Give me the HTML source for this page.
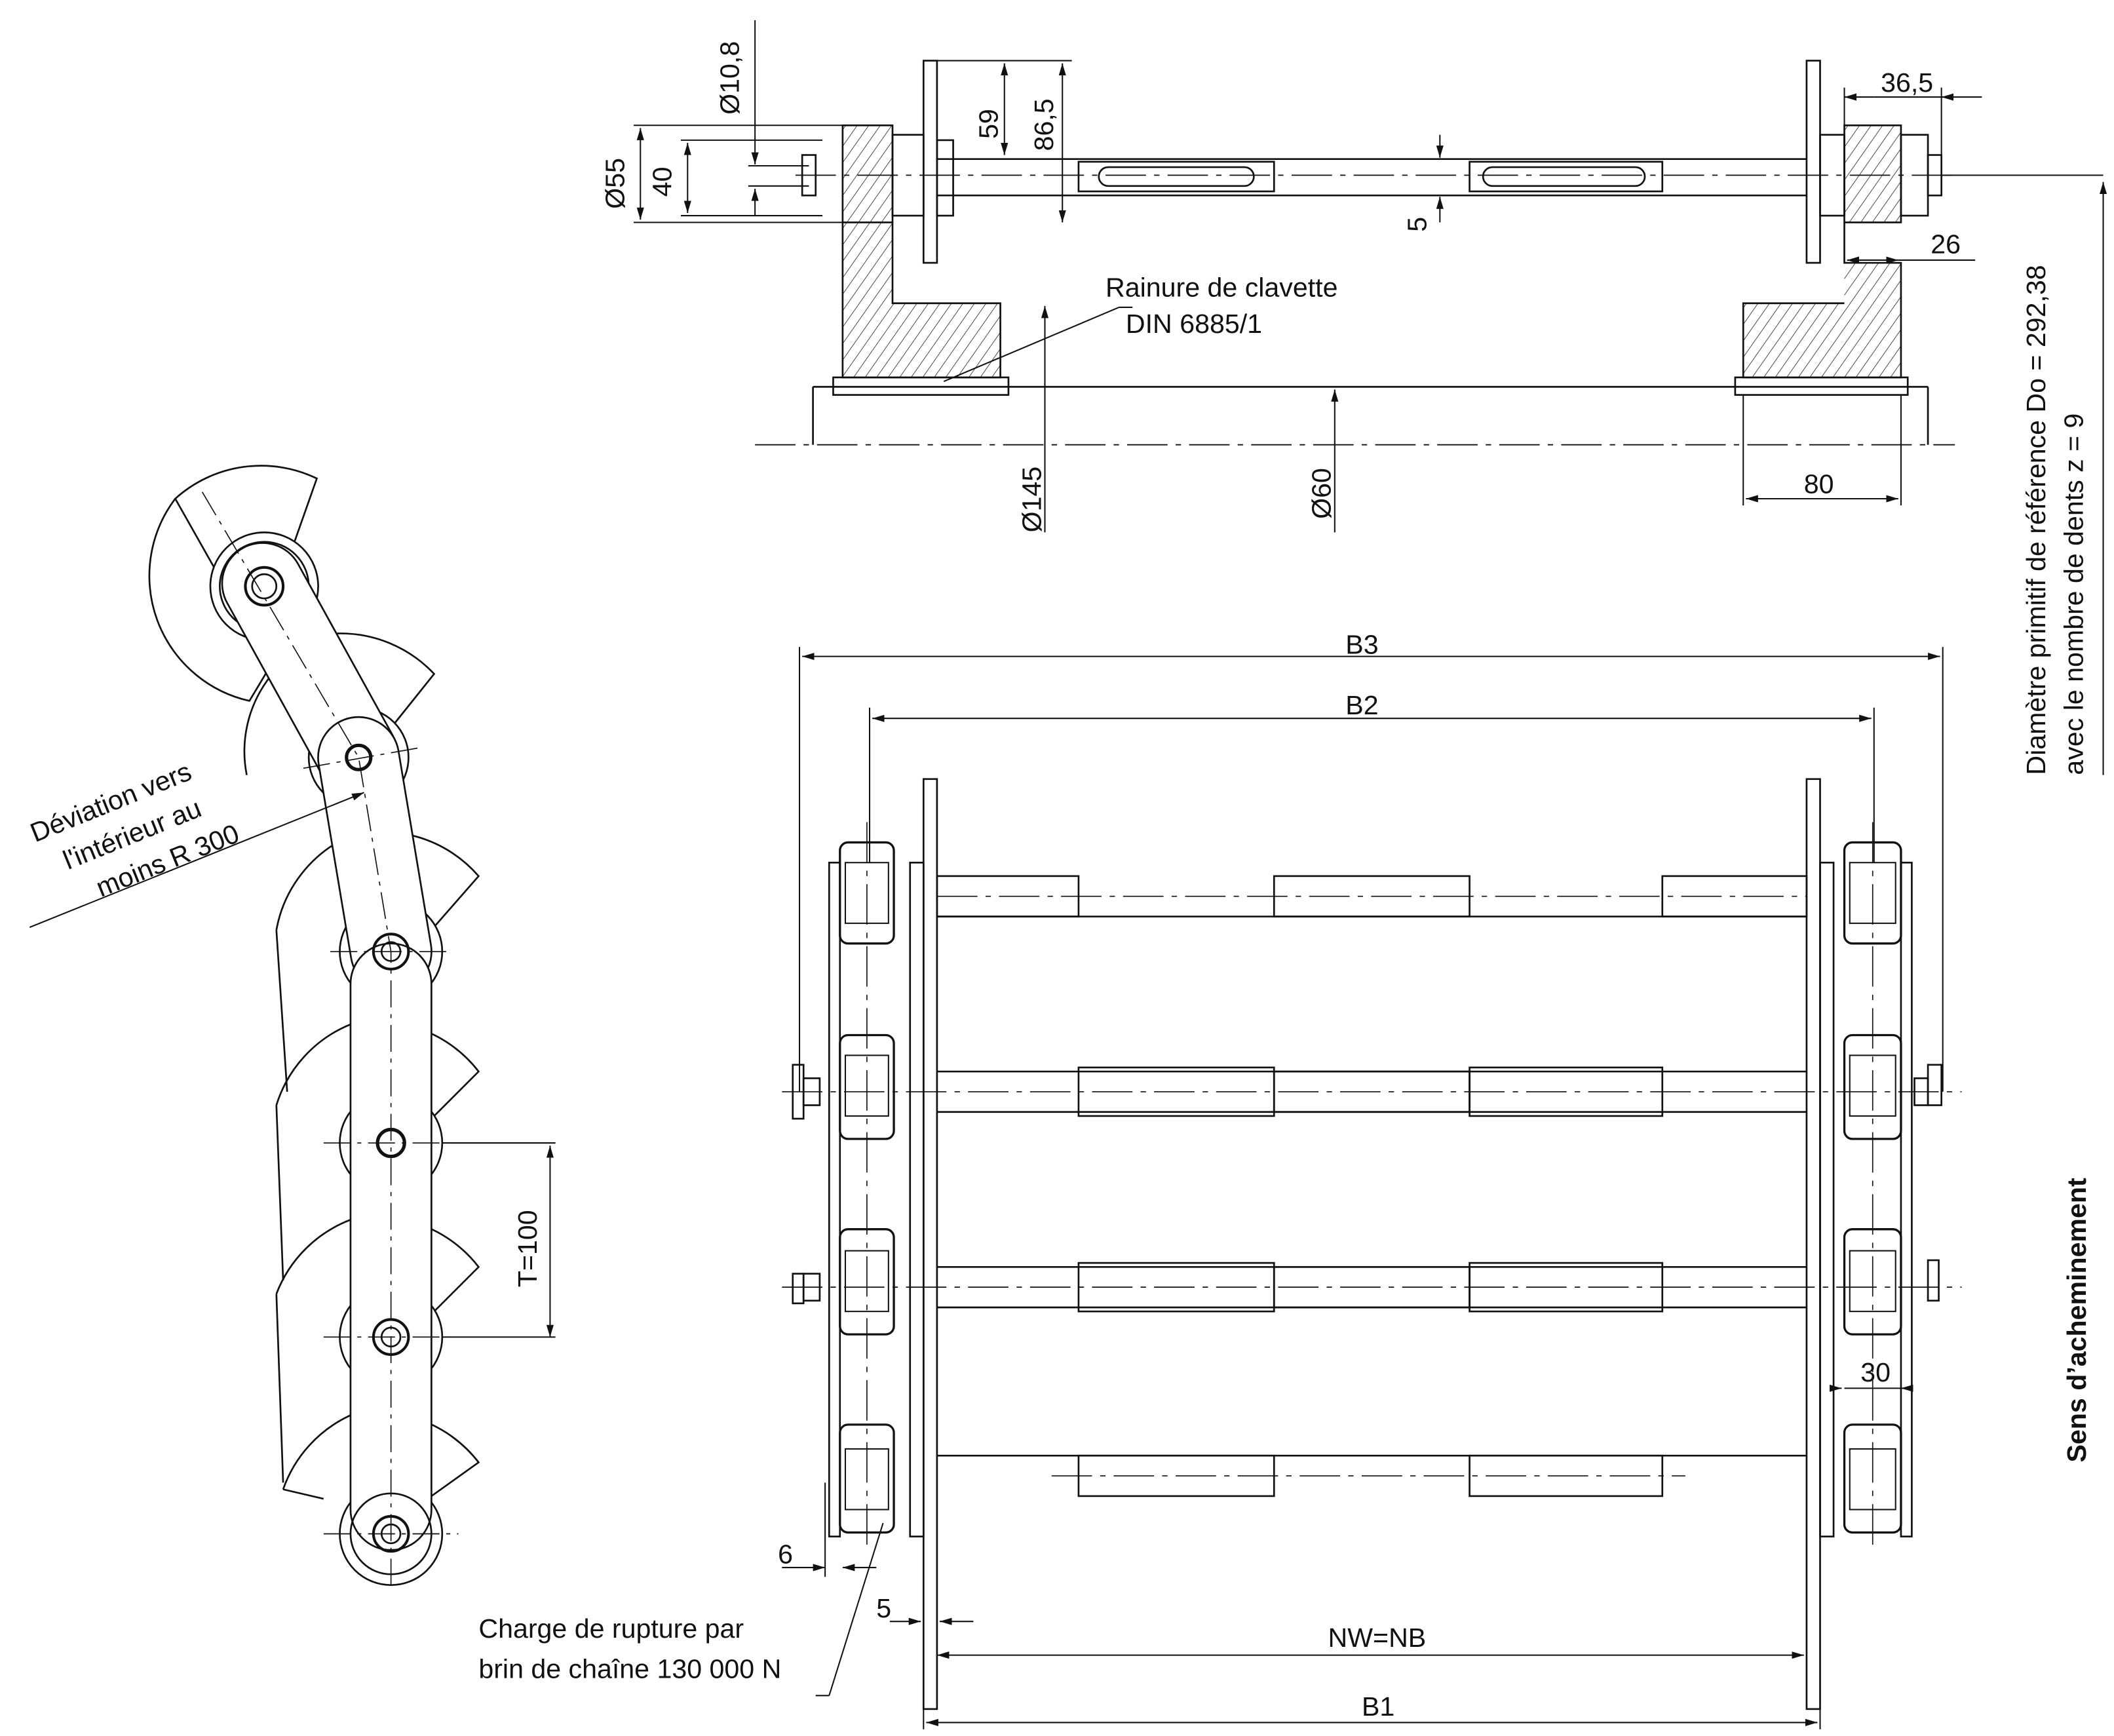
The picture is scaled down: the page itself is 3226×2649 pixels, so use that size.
<!DOCTYPE html>
<html><head><meta charset="utf-8"><style>html,body{margin:0;padding:0;background:#fff}svg{display:block}
text{font-family:"Liberation Sans",sans-serif;fill:#111}</style></head><body>
<svg width="3226" height="2649" viewBox="0 0 1568 1288" preserveAspectRatio="none" xmlns="http://www.w3.org/2000/svg">
<defs>
<pattern id="h" width="7" height="7" patternUnits="userSpaceOnUse" patternTransform="rotate(35)"><line x1="0" y1="0" x2="0" y2="7" stroke="#222" stroke-width="0.8"/></pattern>
<marker id="a" viewBox="0 0 10 10" refX="10" refY="5" markerWidth="9" markerHeight="9" orient="auto-start-reverse"><path d="M0,2 L10,5 L0,8z" fill="#111"/></marker>
</defs>
<rect width="1568" height="1288" fill="#fff"/>
<g fill="none" stroke="#111" stroke-width="1.3">
<!-- TOP VIEW -->
<rect x="625" y="93" width="37" height="72" fill="url(#h)"/>
<path d="M625 165 V280 H742 V225 H662 V165" fill="url(#h)"/>
<rect x="618" y="280" width="130" height="13"/>
<rect x="685" y="45" width="10" height="150"/>
<rect x="662" y="100" width="23" height="60"/>
<rect x="695" y="104" width="12" height="56"/>
<line x1="695" y1="118" x2="1340" y2="118"/><line x1="695" y1="145" x2="1340" y2="145"/>
<rect x="800" y="120" width="145" height="22"/><rect x="1090" y="120" width="143" height="22"/>
<rect x="815" y="124" width="115" height="14" rx="7"/><rect x="1100" y="124" width="120" height="14" rx="7"/>
<rect x="1340" y="45" width="10" height="150"/>
<rect x="1350" y="100" width="18" height="60"/>
<rect x="1368" y="93" width="42" height="72" fill="url(#h)"/>
<path d="M1368 165 V195 H1410 V280 H1293 V225 H1368" fill="url(#h)"/>
<rect x="1410" y="100" width="20" height="60"/>
<rect x="1287" y="280" width="128" height="13"/>
<rect x="595" y="115" width="10" height="30"/><rect x="1430" y="115" width="10" height="30"/>
<line x1="603" y1="287" x2="1430" y2="287"/>
<line x1="603" y1="287" x2="603" y2="330"/><line x1="1430" y1="287" x2="1430" y2="330"/>
<line x1="560" y1="330" x2="1450" y2="330" stroke-dasharray="30,6,4,6" stroke-width="0.9"/>
<line x1="590" y1="130" x2="1450" y2="130" stroke-dasharray="30,6,4,6" stroke-width="0.9"/>
<!-- top dims -->
<g stroke-width="1">
<line x1="470" y1="93" x2="625" y2="93"/><line x1="470" y1="165" x2="625" y2="165"/>
<line x1="475" y1="95" x2="475" y2="163" marker-start="url(#a)" marker-end="url(#a)"/>
<line x1="505" y1="104" x2="610" y2="104"/><line x1="505" y1="160" x2="610" y2="160"/>
<line x1="510" y1="106" x2="510" y2="158" marker-start="url(#a)" marker-end="url(#a)"/>
<line x1="560" y1="15" x2="560" y2="122" marker-end="url(#a)"/><line x1="560" y1="160" x2="560" y2="140" marker-end="url(#a)"/>
<line x1="555" y1="123" x2="600" y2="123"/><line x1="555" y1="138" x2="600" y2="138"/>
<line x1="695" y1="45" x2="795" y2="45"/>
<line x1="745" y1="47" x2="745" y2="115" marker-start="url(#a)" marker-end="url(#a)"/>
<line x1="788" y1="47" x2="788" y2="165" marker-start="url(#a)" marker-end="url(#a)"/>
<line x1="1068" y1="100" x2="1068" y2="117" marker-end="url(#a)"/><line x1="1068" y1="165" x2="1068" y2="146" marker-end="url(#a)"/>
<line x1="1368" y1="65" x2="1368" y2="93"/><line x1="1440" y1="65" x2="1440" y2="115"/>
<line x1="1390" y1="72" x2="1368" y2="72" marker-end="url(#a)"/><line x1="1470" y1="72" x2="1440" y2="72" marker-end="url(#a)"/>
<line x1="1390" y1="72" x2="1440" y2="72"/>
<line x1="1370" y1="193" x2="1408" y2="193" marker-start="url(#a)" marker-end="url(#a)"/><line x1="1408" y1="193" x2="1465" y2="193"/>
<line x1="1440" y1="130" x2="1560" y2="130"/>
<line x1="1560" y1="575" x2="1560" y2="135" marker-end="url(#a)"/>
<line x1="775" y1="395" x2="775" y2="227" marker-end="url(#a)"/>
<line x1="990" y1="395" x2="990" y2="289" marker-end="url(#a)"/>
<line x1="1293" y1="293" x2="1293" y2="375"/><line x1="1410" y1="293" x2="1410" y2="375"/>
<line x1="1295" y1="370" x2="1408" y2="370" marker-start="url(#a)" marker-end="url(#a)"/>
<line x1="700" y1="283" x2="830" y2="228"/><line x1="830" y1="228" x2="840" y2="228"/>
</g>
<!-- PLAN VIEW -->
<g stroke-width="1">
<line x1="593" y1="480" x2="593" y2="810"/><line x1="1441" y1="480" x2="1441" y2="810"/>
<line x1="595" y1="487" x2="1439" y2="487" marker-start="url(#a)" marker-end="url(#a)"/>
<line x1="645" y1="525" x2="645" y2="640"/><line x1="1390" y1="525" x2="1390" y2="640"/>
<line x1="647" y1="533" x2="1388" y2="533" marker-start="url(#a)" marker-end="url(#a)"/>
<line x1="685" y1="1200" x2="685" y2="1283"/><line x1="1350" y1="1200" x2="1350" y2="1283"/>
<line x1="687" y1="1278" x2="1348" y2="1278" marker-start="url(#a)" marker-end="url(#a)"/>
<line x1="695" y1="1228" x2="1338" y2="1228" marker-start="url(#a)" marker-end="url(#a)"/>
<line x1="660" y1="1203" x2="683" y2="1203" marker-end="url(#a)"/><line x1="722" y1="1203" x2="697" y2="1203" marker-end="url(#a)"/>
<line x1="580" y1="1163" x2="612" y2="1163" marker-end="url(#a)"/><line x1="650" y1="1163" x2="625" y2="1163" marker-end="url(#a)"/>
<line x1="1360" y1="1030" x2="1366" y2="1030" marker-end="url(#a)"/><line x1="1415" y1="1030" x2="1410" y2="1030" marker-end="url(#a)"/>
<line x1="1368" y1="1030" x2="1410" y2="1030"/>
<line x1="612" y1="1100" x2="612" y2="1170"/>
<line x1="655" y1="1130" x2="615" y2="1258"/><line x1="615" y1="1258" x2="605" y2="1258"/>
<line x1="408" y1="850" x2="408" y2="992" marker-start="url(#a)" marker-end="url(#a)"/>
<line x1="318" y1="848" x2="412" y2="848"/><line x1="318" y1="992" x2="412" y2="992"/>
</g>
<rect x="685" y="578" width="10" height="690"/><rect x="1340" y="578" width="10" height="690"/>
<rect x="675" y="640" width="10" height="500"/><rect x="1350" y="640" width="10" height="500"/>
<rect x="615" y="640" width="8" height="500"/><rect x="1410" y="640" width="8" height="500"/>
<g stroke-width="1.6">
<rect x="623" y="625" width="40" height="75" rx="6"/><rect x="623" y="768" width="40" height="77" rx="6"/>
<rect x="623" y="912" width="40" height="78" rx="6"/><rect x="623" y="1057" width="40" height="80" rx="6"/>
<rect x="1368" y="625" width="42" height="75" rx="6"/><rect x="1368" y="768" width="42" height="77" rx="6"/>
<rect x="1368" y="912" width="42" height="78" rx="6"/><rect x="1368" y="1057" width="42" height="80" rx="6"/>
</g>
<g stroke-width="1">
<rect x="627" y="640" width="32" height="45"/><rect x="627" y="783" width="32" height="45"/><rect x="627" y="928" width="32" height="45"/><rect x="627" y="1075" width="32" height="45"/>
<rect x="1372" y="640" width="34" height="45"/><rect x="1372" y="783" width="34" height="45"/><rect x="1372" y="928" width="34" height="45"/><rect x="1372" y="1075" width="34" height="45"/>
</g>
<rect x="695" y="650" width="105" height="30"/><rect x="945" y="650" width="145" height="30"/><rect x="1233" y="650" width="107" height="30"/>
<line x1="695" y1="665" x2="1340" y2="665" stroke-dasharray="30,6,4,6" stroke-width="0.8"/>
<line x1="695" y1="795" x2="1340" y2="795"/><line x1="695" y1="825" x2="1340" y2="825"/>
<rect x="800" y="792" width="145" height="36"/><rect x="945" y="795" width="145" height="30"/><rect x="1090" y="792" width="143" height="36"/>
<line x1="695" y1="940" x2="1340" y2="940"/><line x1="695" y1="970" x2="1340" y2="970"/>
<rect x="800" y="937" width="145" height="36"/><rect x="945" y="940" width="145" height="30"/><rect x="1090" y="937" width="143" height="36"/>
<line x1="695" y1="1080" x2="1340" y2="1080"/>
<rect x="800" y="1080" width="145" height="30"/><rect x="1090" y="1080" width="143" height="30"/>
<line x1="695" y1="680" x2="1340" y2="680"/>
<g stroke-dasharray="30,6,4,6" stroke-width="0.8">
<line x1="580" y1="810" x2="1455" y2="810"/><line x1="580" y1="955" x2="1455" y2="955"/><line x1="780" y1="1095" x2="1250" y2="1095"/>
<line x1="643" y1="610" x2="643" y2="1150"/><line x1="1389" y1="610" x2="1389" y2="1150"/>
</g>
<rect x="588" y="790" width="8" height="40"/><rect x="596" y="800" width="12" height="20"/>
<rect x="588" y="945" width="8" height="22"/><rect x="596" y="945" width="12" height="20"/>
<rect x="1430" y="790" width="10" height="30"/><rect x="1420" y="800" width="10" height="20"/>
<rect x="1430" y="935" width="8" height="30"/>
<!-- LEFT CHAIN -->
<g stroke-width="1.3">
<path d="M130 370 A95 95 0 0 1 235 355 L205 440 L178 455 Z"/>
<path d="M130 370 A95 95 0 0 0 185 520 L215 470"/>
<path d="M183 575 A90 90 0 0 1 250 470 A95 95 0 0 1 322 500 L290 540"/>
<path d="M205 690 A95 95 0 0 1 260 620 A95 95 0 0 1 355 650 L320 690"/>
<path d="M205 820 A95 95 0 0 1 260 760 A95 95 0 0 1 355 795 L320 830"/>
<path d="M205 960 A95 95 0 0 1 260 905 A95 95 0 0 1 355 940 L320 975"/>
<path d="M210 1105 A95 95 0 0 1 260 1050 A95 95 0 0 1 355 1085 L320 1110"/>
<path d="M205 690 L213 810 M205 820 L210 950 M205 960 L210 1100 M210 1105 L240 1112"/>
<circle cx="196" cy="435" r="40" fill="#fff"/><circle cx="196" cy="435" r="33"/>
<circle cx="266" cy="562" r="37" fill="#fff"/>
<circle cx="290" cy="706" r="38" fill="#fff"/><circle cx="290" cy="848" r="38" fill="#fff"/>
<circle cx="290" cy="992" r="38" fill="#fff"/><circle cx="290" cy="1138" r="38" fill="#fff"/>
<rect x="126" y="468.5" width="205" height="60" rx="30" transform="rotate(61.1 231 498.5)" fill="#fff"/>
<rect x="175" y="604" width="206" height="60" rx="30" transform="rotate(80.5 278 634)" fill="#fff"/>
<rect x="260" y="700" width="60" height="450" rx="30" fill="#fff"/>
<circle cx="290" cy="1138" r="30"/>
<circle cx="196" cy="435" r="14" stroke-width="2"/><circle cx="196" cy="435" r="9"/>
<circle cx="266" cy="562" r="9" stroke-width="2.5"/>
<circle cx="290" cy="706" r="13" stroke-width="2"/><circle cx="290" cy="706" r="7"/>
<circle cx="290" cy="848" r="10" stroke-width="2.5"/>
<circle cx="290" cy="992" r="13" stroke-width="2"/><circle cx="290" cy="992" r="7"/>
<circle cx="290" cy="1138" r="13" stroke-width="2"/><circle cx="290" cy="1138" r="7"/>
</g>
<g stroke-dasharray="20,5,3,5" stroke-width="0.8">
<path d="M150 365 L266 562 L290 706 L290 1180"/>
<line x1="240" y1="848" x2="340" y2="848"/><line x1="240" y1="992" x2="340" y2="992"/><line x1="240" y1="1138" x2="340" y2="1138"/>
<line x1="245" y1="706" x2="335" y2="706"/><line x1="225" y1="570" x2="310" y2="555"/>
</g>
<line x1="22" y1="688" x2="270" y2="588" stroke-width="1" marker-end="url(#a)"/>
</g>
<!-- TEXT -->
<g font-size="20">
<text x="820" y="220">Rainure de clavette</text>
<text x="835" y="247">DIN 6885/1</text>
<text x="998" y="485">B3</text><text x="998" y="530">B2</text>
<text x="985" y="1222">NW=NB</text><text x="1010" y="1273">B1</text>
<text x="1338" y="366">80</text><text x="1395" y="68">36,5</text><text x="1432" y="188">26</text>
<text x="1380" y="1025">30</text><text x="577" y="1160">6</text><text x="650" y="1200">5</text>
<text x="355" y="1215">Charge de rupture par</text>
<text x="355" y="1245">brin de chaîne 130 000 N</text>
<text transform="translate(463,155) rotate(-90)">Ø55</text>
<text transform="translate(498,146) rotate(-90)">40</text>
<text transform="translate(548,85) rotate(-90)">Ø10,8</text>
<text transform="translate(740,103) rotate(-90)">59</text>
<text transform="translate(781,112) rotate(-90)">86,5</text>
<text transform="translate(1058,172) rotate(-90)">5</text>
<text transform="translate(772,395) rotate(-90)">Ø145</text>
<text transform="translate(987,385) rotate(-90)">Ø60</text>
<text transform="translate(398,955) rotate(-90)">T=100</text>
<text transform="translate(1517,575) rotate(-90)">Diamètre primitif de référence Do = 292,38</text>
<text transform="translate(1545,575) rotate(-90)">avec le nombre de dents z = 9</text>
<text transform="translate(1547,1085) rotate(-90)" font-weight="bold">Sens d’acheminement</text>
<g transform="rotate(-22 90 610)"><text x="25" y="600">Déviation vers</text><text x="40" y="628">l'intérieur au</text><text x="55" y="656">moins R 300</text></g>
</g>
</svg>
</body></html>
